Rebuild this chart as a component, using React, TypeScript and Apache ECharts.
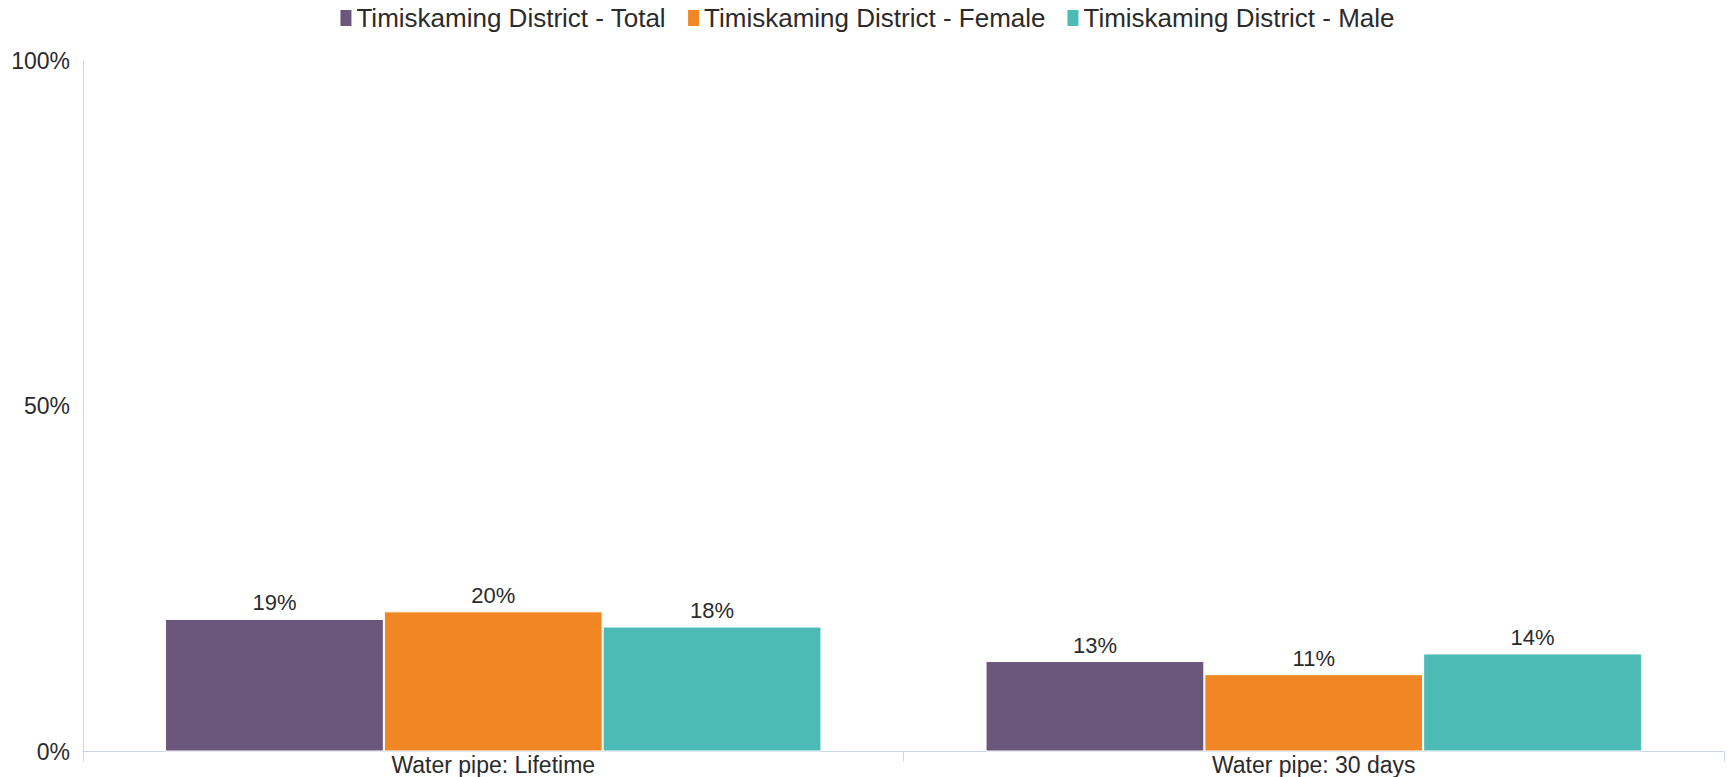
import React, { useEffect, useRef } from "react";
import * as echarts from "echarts";

const categories = ["Water pipe: Lifetime", "Water pipe: 30 days"];
const seriesNames = [
  "Timiskaming District - Total",
  "Timiskaming District - Female",
  "Timiskaming District - Male",
];
const totalValues = [19.2, 13.1];
const femaleValues = [20.3, 11.2];
const maleValues = [18.1, 14.2];
const seriesColors = ["#6B577C", "#F08724", "#4CBBB6"];
const yTicks = { min: 0, max: 100, interval: 50 };

export default function App() {
  const ref = useRef<HTMLDivElement>(null);
  useEffect(() => {
    if (!ref.current) return;
    const chart = echarts.init(ref.current, null, { renderer: "svg" });
    const font = "'Liberation Sans', Arial, Helvetica, sans-serif";
    const values = [totalValues, femaleValues, maleValues];
    chart.setOption({
      animation: false,
      textStyle: { fontFamily: font },
      legend: {
        top: 0,
        left: "center",
        itemWidth: 13,
        itemHeight: 18,
        itemGap: 20,
        icon: "rect",
        textStyle: { fontSize: 26, color: "#2b2b2b", fontFamily: font, padding: [0, 0, 0, -1] },
        data: seriesNames,
      },
      grid: { left: 83, right: 9, top: 61, bottom: 25.5, containLabel: false },
      xAxis: {
        type: "category",
        data: categories,
        axisLine: { show: true, lineStyle: { color: "#ccd6eb", width: 1 } },
        axisTick: { show: true, length: 10, lineStyle: { color: "#ccd6eb" } },
        axisLabel: { fontSize: 23, color: "#2b2b2b", margin: 2, fontFamily: font },
      },
      yAxis: {
        type: "value",
        min: yTicks.min,
        max: yTicks.max,
        interval: yTicks.interval,
        axisLine: { show: true, lineStyle: { color: "#ccd6eb", width: 1 } },
        axisTick: { show: false },
        splitLine: { show: false },
        axisLabel: { fontSize: 23, color: "#2b2b2b", margin: 13, formatter: "{value}%", fontFamily: font },
      },
      series: seriesNames.map((name, i) => ({
        name,
        type: "bar",
        data: values[i],
        barGap: "0%",
        barCategoryGap: "20%",
        itemStyle: { color: seriesColors[i], borderColor: "#ffffff", borderWidth: 1 },
        label: {
          show: true,
          position: "top",
          distance: 5,
          fontSize: 22,
          color: "#2b2b2b",
          fontFamily: font,
          formatter: (p: any) => Math.round(p.value) + "%",
        },
      })),
    });
    return () => chart.dispose();
  }, []);
  return (
    <div
      ref={ref}
      style={{ position: "fixed", left: 0, top: 0, width: 1733, height: 777, background: "#fff" }}
    />
  );
}
